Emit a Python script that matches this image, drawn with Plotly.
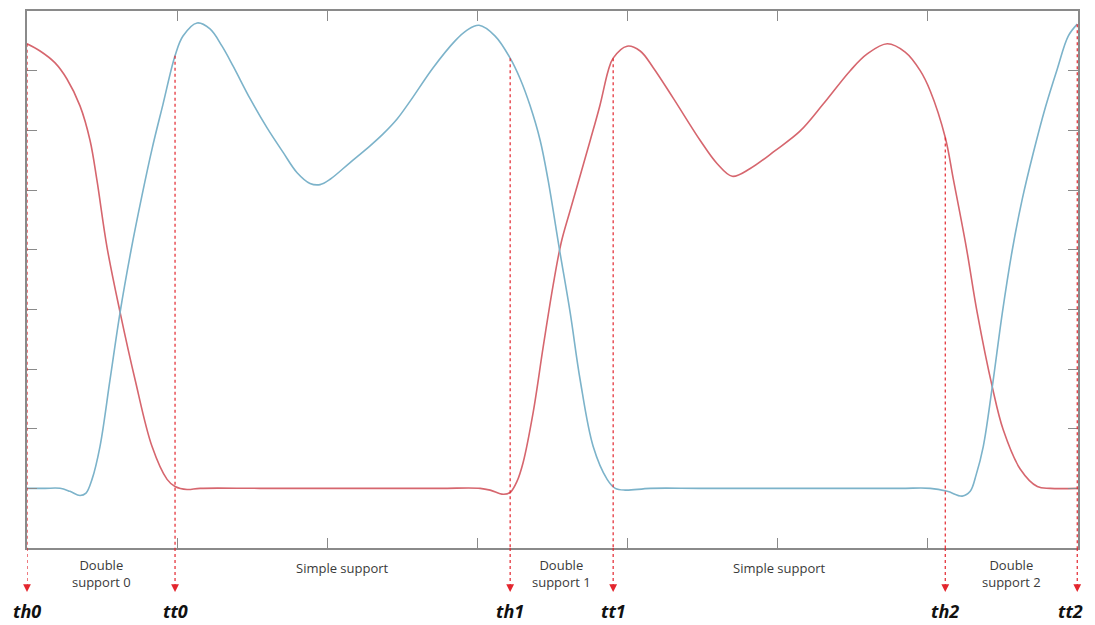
import plotly.graph_objects as go

# Gait cycle: two trajectories (red = one leg, blue = other leg)
red_t = [0, 0.087, 0.187, 0.266, 0.353, 0.420, 0.466, 0.533, 0.620, 0.720,
         0.833, 0.933, 0.986, 1.066, 1.153, 1.552, 2.152, 2.752, 3.018, 3.085,
         3.171, 3.218, 3.264, 3.304, 3.371, 3.438, 3.504, 3.558, 3.618, 3.684,
         3.751, 3.817, 3.871, 3.904, 3.997, 4.084, 4.171, 4.304, 4.484, 4.597,
         4.697, 4.817, 4.983, 5.150, 5.303, 5.483, 5.596, 5.730, 5.849, 5.949,
         6.016, 6.116, 6.169, 6.256, 6.329, 6.429, 6.502, 6.616, 6.729, 6.815,
         7.0]
red_y = [7.45, 7.33, 7.13, 6.86, 6.41, 5.83, 5.16, 4.04, 2.95, 1.82,
         0.70, 0.15, 0.03, -0.02, 0, 0, 0, 0, 0, -0.03,
         -0.10, -0.07, 0.12, 0.43, 1.27, 2.37, 3.40, 4.12, 4.66, 5.24,
         5.83, 6.43, 7.00, 7.21, 7.41, 7.33, 7.05, 6.54, 5.83, 5.44,
         5.23, 5.36, 5.66, 5.99, 6.44, 7.00, 7.28, 7.45, 7.31, 7.00,
         6.66, 5.88, 5.19, 4.04, 2.94, 1.70, 0.98, 0.32, 0.03, 0,
         0]

blue_t = [0, 0.120, 0.220, 0.286, 0.353, 0.393, 0.433, 0.486, 0.553, 0.620,
          0.693, 0.766, 0.833, 0.906, 0.986, 1.039, 1.133, 1.219, 1.299, 1.372,
          1.486, 1.599, 1.706, 1.799, 1.885, 1.952, 2.019, 2.152, 2.285, 2.372,
          2.465, 2.552, 2.705, 2.851, 2.931, 3.011, 3.118, 3.218, 3.285, 3.351,
          3.418, 3.471, 3.544, 3.618, 3.684, 3.771, 3.864, 3.918, 3.984, 4.151,
          4.484, 5.150, 5.816, 6.016, 6.129, 6.229, 6.282, 6.322, 6.369, 6.429,
          6.496, 6.562, 6.629, 6.702, 6.782, 6.862, 6.935, 6.995]
blue_y = [0, 0, 0, -0.05, -0.12, -0.08, 0.15, 0.70, 1.82, 2.95,
          3.99, 4.91, 5.69, 6.44, 7.25, 7.58, 7.80, 7.70, 7.41, 7.08,
          6.53, 6.04, 5.63, 5.29, 5.11, 5.09, 5.18, 5.46, 5.74, 5.94,
          6.19, 6.49, 7.05, 7.50, 7.68, 7.76, 7.58, 7.21, 6.86, 6.41,
          5.83, 5.16, 4.04, 2.94, 1.82, 0.70, 0.15, 0, -0.03, 0,
          0, 0, 0, 0, -0.05, -0.13, -0.05, 0.23, 0.70, 1.70,
          2.94, 3.99, 4.85, 5.62, 6.38, 7.03, 7.58, 7.78]

# heel / toe events and the curve value where each marker starts
event_names = ["th0", "tt0", "th1", "tt1", "th2", "tt2"]
event_t = [0, 0.986, 3.218, 3.904, 6.116, 6.995]
event_top = [7.45, 7.25, 7.21, 7.21, 5.88, 7.78]

phase_names = ["Double<br>support 0", "Simple support", "Double<br>support 1",
               "Simple support", "Double<br>support 2"]

RED = "#d6666e"
BLUE = "#7cb3ca"
MARK = "#e3262e"
FRAME = "#8a8a8a"

fig = go.Figure()
fig.add_trace(go.Scatter(x=red_t, y=red_y, mode="lines", line_shape="spline",
                         line=dict(color=RED, width=1.6), hoverinfo="skip"))
fig.add_trace(go.Scatter(x=blue_t, y=blue_y, mode="lines", line_shape="spline",
                         line=dict(color=BLUE, width=1.6), hoverinfo="skip"))

last = len(event_names) - 1
for i, (name, t, top) in enumerate(zip(event_names, event_t, event_top)):
    fig.add_shape(type="line", xref="x", yref="y", x0=t, x1=t, y0=top, y1=-1,
                  line=dict(color=MARK, width=1.2, dash="dot"))
    fig.add_shape(type="line", xref="x", yref="paper", x0=t, x1=t, y0=0, y1=-0.072,
                  line=dict(color=MARK, width=1.2, dash="dot"))
    fig.add_annotation(x=t, xref="x", y=-0.082, yref="paper", text="",
                       showarrow=True, arrowhead=2, arrowsize=1.3, arrowwidth=1.2,
                       arrowcolor=MARK, ax=0, ay=-8)
    # keep the right-most label inside the window
    fig.add_annotation(x=t, xref="x", y=-0.118, yref="paper", text=f"<b><i>{name}</i></b>",
                       showarrow=False, yanchor="middle", xshift=-7 if i == last else 0,
                       font=dict(family="Open Sans", size=18, color="#111111"))

for i, label in enumerate(phase_names):
    mid = (event_t[i] + event_t[i + 1]) / 2
    two_lines = "<br>" in label
    fig.add_annotation(x=mid, xref="x", y=-0.048 if two_lines else -0.037, yref="paper",
                       text=label, showarrow=False, yanchor="middle",
                       font=dict(family="Open Sans", size=13, color="#3a3a3a"))

axis_style = dict(showline=True, linecolor=FRAME, linewidth=1.6, mirror="ticks",
                  ticks="inside", ticklen=10, tickwidth=1.4, tickcolor=FRAME,
                  showticklabels=False, showgrid=False, zeroline=False, dtick=1)
fig.update_xaxes(range=[0, 7], **axis_style)
fig.update_yaxes(range=[-1, 8], **axis_style)

# the page body adds an 8px offset, so margins are shifted to compensate
fig.update_layout(
    width=1095, height=625,
    showlegend=False,
    plot_bgcolor="white", paper_bgcolor="white",
    margin=dict(l=19, r=25, t=1, b=85),
)

fig.write_html("out.html")
